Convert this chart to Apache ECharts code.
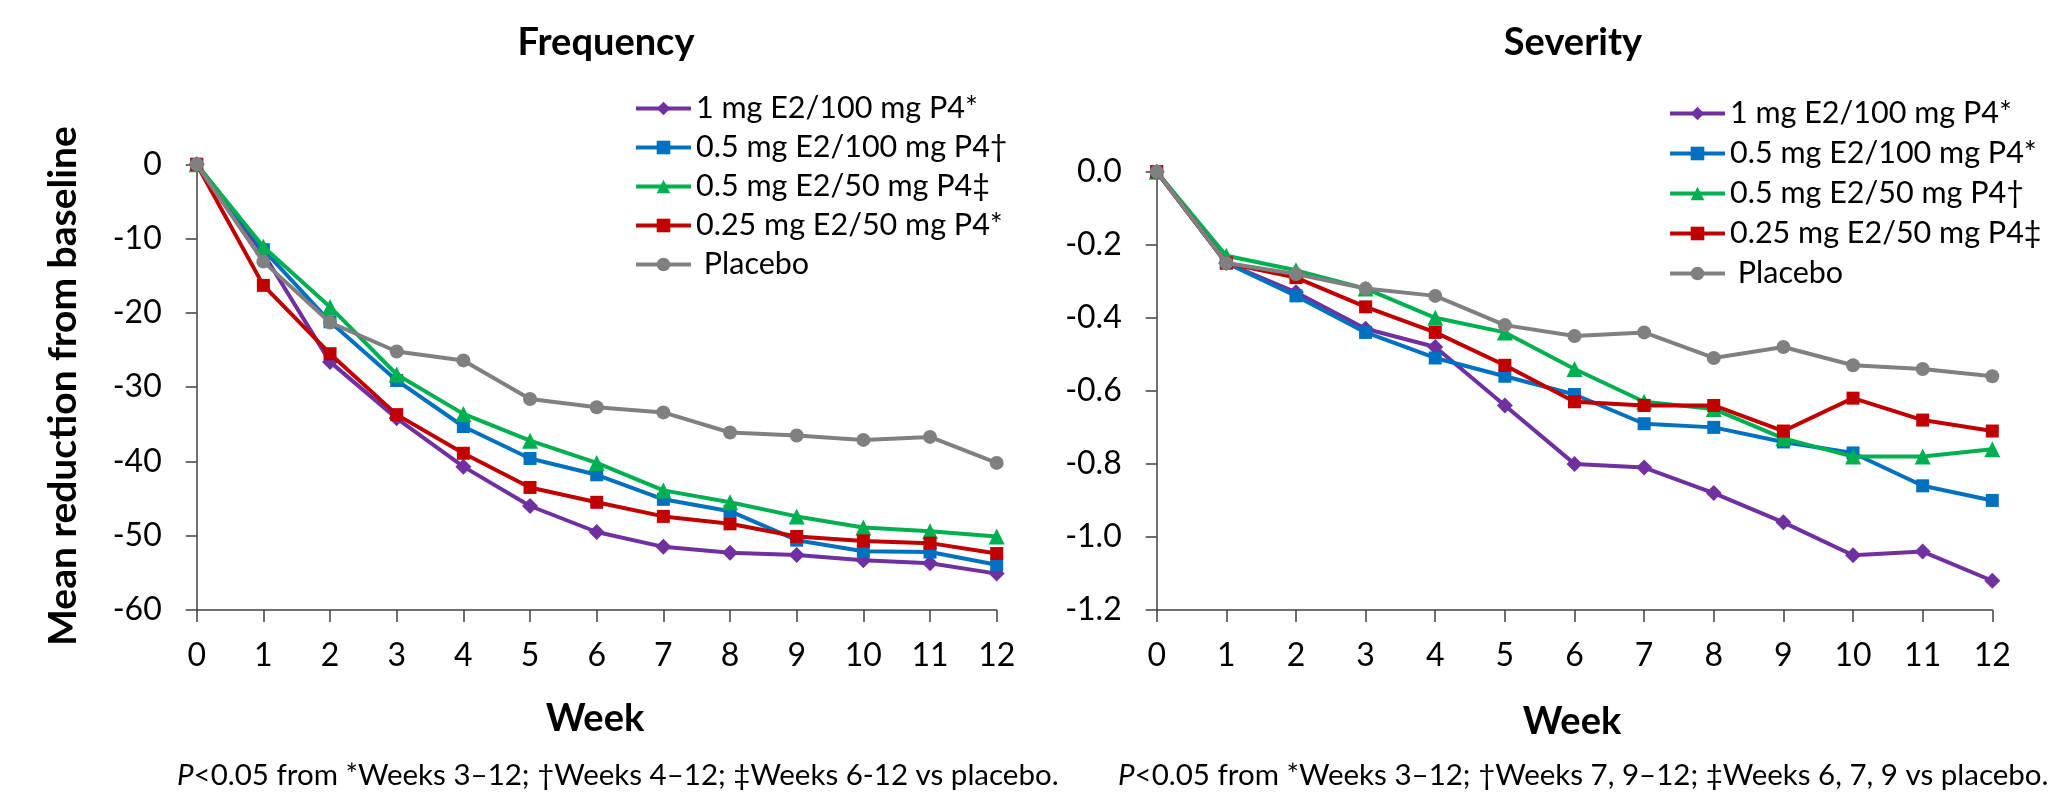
<!DOCTYPE html>
<html>
<head>
<meta charset="utf-8">
<script src="https://cdn.jsdelivr.net/npm/echarts@6/dist/echarts.min.js"></script>
<style>
  html, body { margin: 0; padding: 0; background: #ffffff; }
  #chart { width: 2057px; height: 797px; }
</style>
</head>
<body>
<div id="chart"></div>
<script>
// Study weeks on the x axis
const weeks = [0, 1, 2, 3, 4, 5, 6, 7, 8, 9, 10, 11, 12];

// Series names (footnote marks differ between the two panels)
const freqNames = ['1 mg E2/100 mg P4*', '0.5 mg E2/100 mg P4\u2020', '0.5 mg E2/50 mg P4\u2021', '0.25 mg E2/50 mg P4*', 'Placebo'];
const sevNames  = ['1 mg E2/100 mg P4*', '0.5 mg E2/100 mg P4*', '0.5 mg E2/50 mg P4\u2020', '0.25 mg E2/50 mg P4\u2021', 'Placebo'];

// Frequency: mean reduction from baseline
const freqE2_1_P4_100    = [0, -12.0, -26.6, -34.2, -40.7, -46.0, -49.5, -51.5, -52.3, -52.6, -53.3, -53.7, -55.1];
const freqE2_05_P4_100   = [0, -11.5, -21.2, -29.1, -35.3, -39.6, -41.8, -45.1, -46.7, -50.6, -52.1, -52.2, -53.9];
const freqE2_05_P4_50    = [0, -11.1, -19.2, -28.3, -33.6, -37.2, -40.2, -43.9, -45.5, -47.4, -48.9, -49.4, -50.1];
const freqE2_025_P4_50   = [0, -16.3, -25.5, -33.7, -38.9, -43.5, -45.5, -47.4, -48.4, -50.1, -50.7, -51.0, -52.4];
const freqPlacebo        = [0, -13.1, -21.3, -25.2, -26.4, -31.6, -32.7, -33.4, -36.1, -36.5, -37.1, -36.7, -40.2];

// Severity: mean reduction from baseline
const sevE2_1_P4_100     = [0, -0.25, -0.33, -0.43, -0.48, -0.64, -0.80, -0.81, -0.88, -0.96, -1.05, -1.04, -1.12];
const sevE2_05_P4_100    = [0, -0.25, -0.34, -0.44, -0.51, -0.56, -0.61, -0.69, -0.70, -0.74, -0.77, -0.86, -0.90];
const sevE2_05_P4_50     = [0, -0.23, -0.27, -0.32, -0.40, -0.44, -0.54, -0.63, -0.65, -0.73, -0.78, -0.78, -0.76];
const sevE2_025_P4_50    = [0, -0.25, -0.29, -0.37, -0.44, -0.53, -0.63, -0.64, -0.64, -0.71, -0.62, -0.68, -0.71];
const sevPlacebo         = [0, -0.25, -0.28, -0.32, -0.34, -0.42, -0.45, -0.44, -0.51, -0.48, -0.53, -0.54, -0.56];

// Footnotes
const freqNote = '{i|P}<0.05 from *Weeks 3\u201312; \u2020Weeks 4\u201312; \u2021Weeks 6-12 vs placebo.';
const sevNote  = '{i|P}<0.05 from *Weeks 3\u201312; \u2020Weeks 7, 9\u201312; \u2021Weeks 6, 7, 9 vs placebo.';

const colors  = ['#7030A0', '#0070C0', '#00B050', '#C00000', '#808080'];
const symbols = ['diamond', 'rect', 'triangle', 'rect', 'circle'];
const symSize = [16, 13, 16, 13, 14];
const FONT = 'Lato, "Open Sans", sans-serif';
const AXIS_COLOR = '#404040';

function buildSeries(names, valueLists, axisIndex) {
  return valueLists.map((vals, i) => ({
    name: names[i],
    type: 'line',
    xAxisIndex: axisIndex,
    yAxisIndex: axisIndex,
    data: weeks.map((w, k) => [w, vals[k]]),
    symbol: symbols[i],
    symbolSize: symSize[i],
    showAllSymbol: true,
    lineStyle: { color: colors[i], width: 4 },
    itemStyle: { color: colors[i], borderWidth: 0 },
    emphasis: { disabled: true },
    animation: false,
    z: 2 + i
  }));
}

function xAxisCfg(gridIndex) {
  return {
    type: 'value', gridIndex, min: 0, max: 12, interval: 1,
    axisLine: { show: true, onZero: false, lineStyle: { color: AXIS_COLOR, width: 1.5 } },
    axisTick: { show: true, inside: false, length: 12, lineStyle: { color: AXIS_COLOR, width: 1.5 } },
    axisLabel: { color: '#000', fontFamily: FONT, fontSize: 32, margin: 30 },
    splitLine: { show: false }
  };
}

function yAxisCfg(gridIndex, min, interval, digits) {
  return {
    type: 'value', gridIndex, min, max: 0, interval,
    axisLine: { show: true, lineStyle: { color: AXIS_COLOR, width: 1.5 } },
    axisTick: { show: true, inside: false, length: 11, lineStyle: { color: AXIS_COLOR, width: 1.5 } },
    axisLabel: {
      color: '#000', fontFamily: FONT, fontSize: 32, margin: 35,
      formatter: v => v.toFixed(digits)
    },
    splitLine: { show: false }
  };
}

function legendCfg(names, left, top, gap) {
  return {
    data: names,
    orient: 'vertical',
    left, top,
    padding: 0,
    itemGap: gap,
    itemWidth: 55,
    itemHeight: 17,
    lineStyle: { width: 4 },
    textStyle: { color: '#000', fontFamily: FONT, fontSize: 30.5, lineHeight: 30 },
    formatter: n => (n === 'Placebo' ? ' Placebo' : n),
    selectedMode: false
  };
}

const chart = echarts.init(document.getElementById('chart'), null, { renderer: 'canvas' });

chart.setOption({
  backgroundColor: '#ffffff',
  animation: false,
  grid: [
    { left: 196.7, right: 2057 - 996.7, top: 164.3, bottom: 797 - 610 },
    { left: 1156.7, right: 2057 - 1992.3, top: 171.7, bottom: 797 - 610 }
  ],
  xAxis: [xAxisCfg(0), xAxisCfg(1)],
  yAxis: [yAxisCfg(0, -60, 10, 0), yAxisCfg(1, -1.2, 0.2, 1)],
  legend: [
    legendCfg(freqNames, 634, 93, 8),
    legendCfg(sevNames, 1668, 98, 9)
  ],
  series: [
    ...buildSeries(freqNames, [freqE2_1_P4_100, freqE2_05_P4_100, freqE2_05_P4_50, freqE2_025_P4_50, freqPlacebo], 0),
    ...buildSeries(sevNames, [sevE2_1_P4_100, sevE2_05_P4_100, sevE2_05_P4_50, sevE2_025_P4_50, sevPlacebo], 1)
  ],
  graphic: [
    { type: 'text', x: 606, y: 43, style: { text: 'Frequency', fontFamily: FONT, fontWeight: 'bold', fontSize: 38, fill: '#000', align: 'center', verticalAlign: 'middle' } },
    { type: 'text', x: 1573, y: 43, style: { text: 'Severity', fontFamily: FONT, fontWeight: 'bold', fontSize: 38, fill: '#000', align: 'center', verticalAlign: 'middle' } },
    { type: 'text', x: 595, y: 719, style: { text: 'Week', fontFamily: FONT, fontWeight: 'bold', fontSize: 38, fill: '#000', align: 'center', verticalAlign: 'middle' } },
    { type: 'text', x: 1572, y: 722, style: { text: 'Week', fontFamily: FONT, fontWeight: 'bold', fontSize: 38, fill: '#000', align: 'center', verticalAlign: 'middle' } },
    { type: 'text', x: 63, y: 386, rotation: Math.PI / 2, style: { text: 'Mean reduction from baseline', fontFamily: FONT, fontWeight: 'bold', fontSize: 39, fill: '#000', align: 'center', verticalAlign: 'middle' } },
    { type: 'text', x: 177, y: 775, style: { text: freqNote, fontFamily: FONT, fontSize: 29.5, fill: '#000', align: 'left', verticalAlign: 'middle',
        rich: { i: { fontStyle: 'italic', fontFamily: FONT, fontSize: 29.5, fill: '#000' } } } },
    { type: 'text', x: 1118, y: 775, style: { text: sevNote, fontFamily: FONT, fontSize: 29.5, fill: '#000', align: 'left', verticalAlign: 'middle',
        rich: { i: { fontStyle: 'italic', fontFamily: FONT, fontSize: 29.5, fill: '#000' } } } }
  ]
});
</script>
</body>
</html>
